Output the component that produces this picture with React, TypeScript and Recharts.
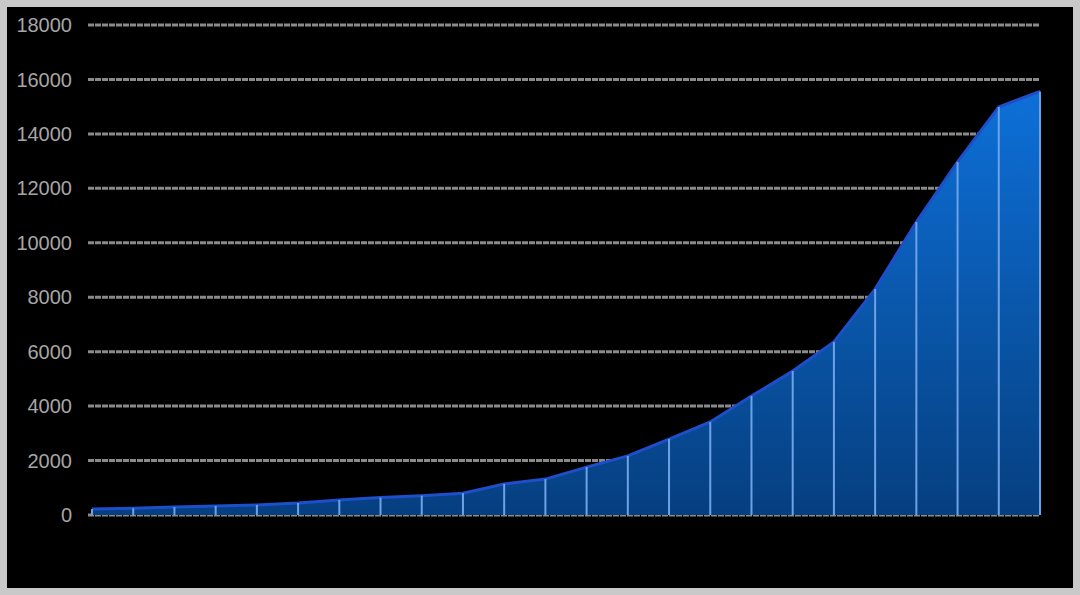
import { Area, AreaChart, CartesianGrid, ReferenceLine, XAxis, YAxis } from "recharts";

const periods = [
  "1", "2", "3", "4", "5", "6", "7", "8", "9", "10", "11", "12",
  "13", "14", "15", "16", "17", "18", "19", "20", "21", "22", "23", "24",
];
const totals = [
  220, 250, 290, 330, 370, 440, 550, 640, 710, 800, 1140, 1320,
  1760, 2170, 2790, 3420, 4370, 5290, 6360, 8300, 10760, 12970, 14990, 15560,
];
const yTicks = [0, 2000, 4000, 6000, 8000, 10000, 12000, 14000, 16000, 18000];

const data = periods.map((p, i) => ({ period: p, total: totals[i] }));

export default function App() {
  return (
    <div
      style={{
        position: "absolute",
        top: 0,
        left: 0,
        width: 1080,
        height: 595,
        boxSizing: "border-box",
        padding: 7,
        background: "#c9c9c9",
      }}
    >
      <div style={{ width: 1066, height: 581, background: "#000" }}>
        <AreaChart
          width={1066}
          height={581}
          data={data}
          margin={{ top: 18, right: 33, left: 0, bottom: 73 }}
        >
          <defs>
            <linearGradient id="blueFill" x1="0" y1="0" x2="0" y2="1">
              <stop offset="0%" stopColor="#0d70d8" />
              <stop offset="100%" stopColor="#063f80" />
            </linearGradient>
          </defs>
          <CartesianGrid
            vertical={false}
            stroke="#8a8a8a"
            strokeWidth={3}
            strokeDasharray="6 1"
          />
          <XAxis
            dataKey="period"
            tick={false}
            tickLine={false}
            height={0}
            padding={{ left: 4, right: 0 }}
            axisLine={{ stroke: "#8d9bd0", strokeWidth: 3 }}
          />
          <YAxis
            domain={[0, 18000]}
            ticks={yTicks}
            width={81}
            axisLine={false}
            tickLine={false}
            tickSize={0}
            tickMargin={16}
            tick={{ fill: "#a6a6a6", fontSize: 20, fontFamily: "'Liberation Sans', Arial, sans-serif" }}
          />
          <Area
            type="linear"
            dataKey="total"
            stroke="#1d4fca"
            strokeWidth={3}
            fill="url(#blueFill)"
            fillOpacity={1}
            dot={false}
            activeDot={false}
            isAnimationActive={false}
          />
          {data.map((d) => (
            <ReferenceLine
              key={d.period}
              segment={[
                { x: d.period, y: 0 },
                { x: d.period, y: d.total },
              ]}
              stroke="#6ea2e6"
              strokeWidth={2}
              ifOverflow="visible"
            />
          ))}
        </AreaChart>
      </div>
    </div>
  );
}
